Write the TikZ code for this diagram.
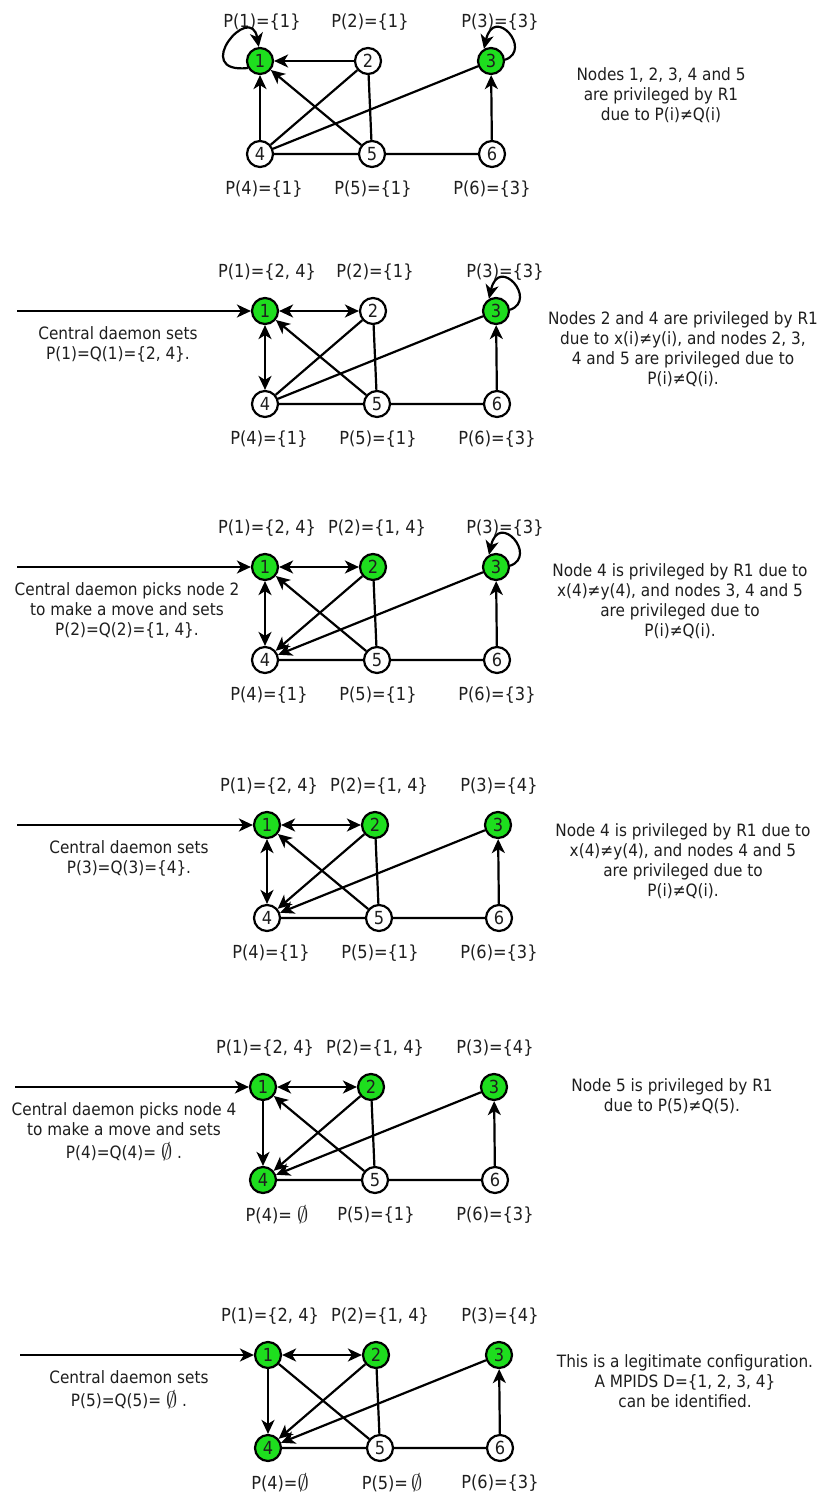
\documentclass[tikz,border=0pt]{standalone}
\usepackage{fontspec}
\setmainfont{DejaVu Sans Condensed}
\usetikzlibrary{arrows.meta}
\definecolor{nodegreen}{RGB}{30,222,30}
\definecolor{ink}{RGB}{30,30,30}
\newcommand\noset{\raisebox{-1.5pt}{\scalebox{1.3}{$\emptyset$}}}

\begin{document}
\begin{tikzpicture}[x=1pt,y=-1pt,font=\fontsize{17}{20}\selectfont,
	every node/.style={text=ink,inner sep=0pt},
	unlit/.style={circle,draw=black,line width=2.2pt,minimum size=26pt,fill=white,font=\fontsize{18}{20}\selectfont},
	lit/.style={unlit,fill=nodegreen},
	plabel/.style={font=\fontsize{18}{20}\selectfont},
	link/.style={line width=2.2pt},
	ptr/.style={link,-{Stealth[length=14pt,width=13pt,inset=4pt]}},
	bptr/.style={link,{Stealth[length=14pt,width=13pt,inset=4pt]}-{Stealth[length=14pt,width=13pt,inset=4pt]}},
	note/.style={align=center,anchor=north}]
	\useasboundingbox (0,0) rectangle (824,1495);

	\begin{scope}[shift={(260,61)}]
		\foreach \i/\x/\y/\s in {1/0/0/lit,2/108/0/unlit,3/231/0/lit,4/0/93/unlit,5/112/93/unlit,6/232/93/unlit}
			\node[\s] (a\i) at (\x,\y) {\i};
		\node[plabel] (pa1) at (2,-39) {P(1)=\{1\}};
		\node[plabel] (pa2) at (110,-39) {P(2)=\{1\}};
		\node[plabel] (pa3) at (240,-39) {P(3)=\{3\}};
		\node[plabel] (pa4) at (4,128) {P(4)=\{1\}};
		\node[plabel] (pa5) at (113,128) {P(5)=\{1\}};
		\node[plabel] (pa6) at (232,128) {P(6)=\{3\}};
		\draw[ptr] (a2) -- (a1);
		\draw[ptr] (a4) -- (a1);
		\draw[ptr] (a5) -- (a1);
		\draw[ptr] (a6) -- (a3);
		\draw[link] (a2) -- (a4) (a2) -- (a5) (a3) -- (a4) (a4) -- (a5) (a5) -- (a6);
		\draw[ptr] (a1.210) .. controls +(-58,6) and +(-8,-46) .. (a1.95);
		\draw[ptr] (a3.5) .. controls +(28,-10) and +(10,-44) .. (a3.120);
		\node[note] (ra) at (401,6) {Nodes 1, 2, 3, 4 and 5\\are privileged by R1\\due to P(i)≠Q(i)};
	\end{scope}

	\begin{scope}[shift={(265,311)}]
		\foreach \i/\x/\y/\s in {1/0/0/lit,2/108/0/unlit,3/231/0/lit,4/0/93/unlit,5/112/93/unlit,6/232/93/unlit}
			\node[\s] (b\i) at (\x,\y) {\i};
		\node[plabel] (pb1) at (2,-39) {P(1)=\{2, 4\}};
		\node[plabel] (pb2) at (110,-39) {P(2)=\{1\}};
		\node[plabel] (pb3) at (240,-39) {P(3)=\{3\}};
		\node[plabel] (pb4) at (4,128) {P(4)=\{1\}};
		\node[plabel] (pb5) at (113,128) {P(5)=\{1\}};
		\node[plabel] (pb6) at (232,128) {P(6)=\{3\}};
		\draw[bptr] (b1) -- (b2);
		\draw[bptr] (b1) -- (b4);
		\draw[ptr] (b5) -- (b1);
		\draw[ptr] (b6) -- (b3);
		\draw[link] (b2) -- (b4) (b2) -- (b5) (b3) -- (b4) (b4) -- (b5) (b5) -- (b6);
		\draw[ptr] (b3.5) .. controls +(28,-10) and +(10,-44) .. (b3.120);
		\coordinate (b0) at (-248,0);
		\draw[ptr] (b0) -- (b1);
		\node[note] (lb) at (-147,15) {Central daemon sets\\P(1)=Q(1)=\{2, 4\}.};
		\node[note] (rb) at (418,0) {Nodes 2 and 4 are privileged by R1\\due to x(i)≠y(i), and nodes 2, 3,\\4 and 5 are privileged due to\\P(i)≠Q(i).};
	\end{scope}

	\begin{scope}[shift={(265,567)}]
		\foreach \i/\x/\y/\s in {1/0/0/lit,2/108/0/lit,3/231/0/lit,4/0/93/unlit,5/112/93/unlit,6/232/93/unlit}
			\node[\s] (c\i) at (\x,\y) {\i};
		\node[plabel] (pc1) at (2,-39) {P(1)=\{2, 4\}};
		\node[plabel] (pc2) at (112,-39) {P(2)=\{1, 4\}};
		\node[plabel] (pc3) at (240,-39) {P(3)=\{3\}};
		\node[plabel] (pc4) at (4,128) {P(4)=\{1\}};
		\node[plabel] (pc5) at (113,128) {P(5)=\{1\}};
		\node[plabel] (pc6) at (232,128) {P(6)=\{3\}};
		\draw[bptr] (c1) -- (c2);
		\draw[bptr] (c1) -- (c4);
		\draw[ptr] (c5) -- (c1);
		\draw[ptr] (c2) -- (c4);
		\draw[ptr] (c3) -- (c4);
		\draw[ptr] (c6) -- (c3);
		\draw[link] (c2) -- (c5) (c4) -- (c5) (c5) -- (c6);
		\draw[ptr] (c3.5) .. controls +(28,-10) and +(10,-44) .. (c3.120);
		\coordinate (c0) at (-248,0);
		\draw[ptr] (c0) -- (c1);
		\node[note] (lc) at (-138,15) {Central daemon picks node 2\\to make a move and sets\\P(2)=Q(2)=\{1, 4\}.};
		\node[note] (rc) at (415,-4) {Node 4 is privileged by R1 due to\\x(4)≠y(4), and nodes 3, 4 and 5\\are privileged due to\\P(i)≠Q(i).};
	\end{scope}

	\begin{scope}[shift={(267,825)}]
		\foreach \i/\x/\y/\s in {1/0/0/lit,2/108/0/lit,3/231/0/lit,4/0/93/unlit,5/112/93/unlit,6/232/93/unlit}
			\node[\s] (d\i) at (\x,\y) {\i};
		\node[plabel] (pd1) at (2,-39) {P(1)=\{2, 4\}};
		\node[plabel] (pd2) at (112,-39) {P(2)=\{1, 4\}};
		\node[plabel] (pd3) at (232,-39) {P(3)=\{4\}};
		\node[plabel] (pd4) at (4,128) {P(4)=\{1\}};
		\node[plabel] (pd5) at (113,128) {P(5)=\{1\}};
		\node[plabel] (pd6) at (232,128) {P(6)=\{3\}};
		\draw[bptr] (d1) -- (d2);
		\draw[bptr] (d1) -- (d4);
		\draw[ptr] (d5) -- (d1);
		\draw[ptr] (d2) -- (d4);
		\draw[ptr] (d3) -- (d4);
		\draw[ptr] (d6) -- (d3);
		\draw[link] (d2) -- (d5) (d4) -- (d5) (d5) -- (d6);
		\coordinate (d0) at (-250,0);
		\draw[ptr] (d0) -- (d1);
		\node[note] (ld) at (-138,15) {Central daemon sets\\P(3)=Q(3)=\{4\}.};
		\node[note] (rd) at (416,-2) {Node 4 is privileged by R1 due to\\x(4)≠y(4), and nodes 4 and 5\\are privileged due to\\P(i)≠Q(i).};
	\end{scope}

	\begin{scope}[shift={(263,1087)}]
		\foreach \i/\x/\y/\s in {1/0/0/lit,2/108/0/lit,3/231/0/lit,4/0/93/lit,5/112/93/unlit,6/232/93/unlit}
			\node[\s] (e\i) at (\x,\y) {\i};
		\node[plabel] (pe1) at (2,-39) {P(1)=\{2, 4\}};
		\node[plabel] (pe2) at (112,-39) {P(2)=\{1, 4\}};
		\node[plabel] (pe3) at (232,-39) {P(3)=\{4\}};
		\node[plabel] (pe4) at (14,128) {P(4)=\ \noset};
		\node[plabel] (pe5) at (113,128) {P(5)=\{1\}};
		\node[plabel] (pe6) at (232,128) {P(6)=\{3\}};
		\draw[bptr] (e1) -- (e2);
		\draw[ptr] (e1) -- (e4);
		\draw[ptr] (e5) -- (e1);
		\draw[ptr] (e2) -- (e4);
		\draw[ptr] (e3) -- (e4);
		\draw[ptr] (e6) -- (e3);
		\draw[link] (e2) -- (e5) (e4) -- (e5) (e5) -- (e6);
		\coordinate (e0) at (-248,0);
		\draw[ptr] (e0) -- (e1);
		\node[note] (le) at (-139,15) {Central daemon picks node 4\\to make a move and sets\\[3pt]P(4)=Q(4)= \noset\ .};
		\node[note] (re) at (409,-9) {Node 5 is privileged by R1\\due to P(5)≠Q(5).};
	\end{scope}

	\begin{scope}[shift={(268,1355)}]
		\foreach \i/\x/\y/\s in {1/0/0/lit,2/108/0/lit,3/231/0/lit,4/0/93/lit,5/112/93/unlit,6/232/93/unlit}
			\node[\s] (f\i) at (\x,\y) {\i};
		\node[plabel] (pf1) at (2,-39) {P(1)=\{2, 4\}};
		\node[plabel] (pf2) at (112,-39) {P(2)=\{1, 4\}};
		\node[plabel] (pf3) at (232,-39) {P(3)=\{4\}};
		\node[plabel] (pf4) at (12,128) {P(4)=\noset};
		\node[plabel] (pf5) at (124,128) {P(5)=\,\noset};
		\node[plabel] (pf6) at (232,128) {P(6)=\{3\}};
		\draw[bptr] (f1) -- (f2);
		\draw[ptr] (f1) -- (f4);
		\draw[ptr] (f2) -- (f4);
		\draw[ptr] (f3) -- (f4);
		\draw[ptr] (f6) -- (f3);
		\draw[link] (f1) -- (f5) (f2) -- (f5) (f4) -- (f5) (f5) -- (f6);
		\coordinate (f0) at (-248,0);
		\draw[ptr] (f0) -- (f1);
		\node[note] (lf) at (-139,15) {Central daemon sets\\[3pt]P(5)=Q(5)= \noset\ .};
		\node[note] (rf) at (417,-1) {This is a legitimate configuration.\\A MPIDS D=\{1, 2, 3, 4\}\\can be identified.};
	\end{scope}
\end{tikzpicture}
\end{document}
